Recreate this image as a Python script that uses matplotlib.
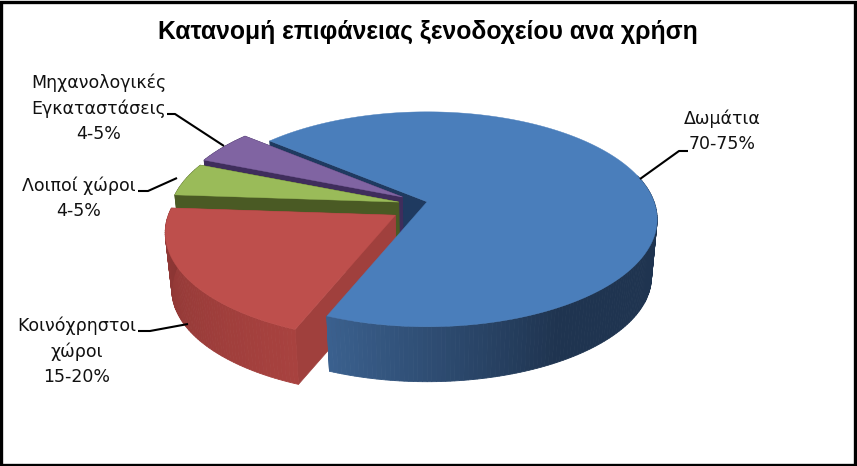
import numpy as np
import matplotlib
matplotlib.use('Agg')
import matplotlib.pyplot as plt
from matplotlib.colors import to_rgb

# dades
categories = ['Δωμάτια', 'Κοινόχρηστοι\nχώροι', 'Λοιποί χώροι', 'Μηχανολογικές\nΕγκαταστάσεις']
ranges = ['70-75%', '15-20%', '4-5%', '4-5%']
values = [70, 20, 5, 5]

top_colors = ['#4a7ebb', '#be4f4c', '#9abb59', '#8064a2']
edge_colors = ['#1f3a60', '#a0403d', '#4a5a24', '#3f2d5c']
side_light = ['#3b618f', '#a8423f', '#4a5a24', '#3f2d5c']
side_dark = ['#1f3450', '#8a3533', '#4a5a24', '#3f2d5c']

start_angle = 140
explode = 0.0727

# posicions de les etiquetes (pixels)
label_pos = [(722, 131.5), (77, 351), (79, 198), (98.5, 108)]
leaders = [
    [(688, 151), (679, 151), (640, 179)],
    [(138, 331), (150, 331), (188, 324)],
    [(138, 191), (148, 191), (177, 178)],
    [(167, 114), (175, 114), (224, 146)],
]

# perspectiva del pla de dalt
cx, cy = 413, 206
A, B, p = 227, 104.6, 0.163
B_expl = 240
depth = 58
shrink = 0.975


def project(t_deg, r, off, low=False):
    t = np.radians(t_deg)
    w = 1 + p * r * np.sin(t)
    X = cx + off[0] + A * r * np.cos(t) / w
    Y = cy + off[1] - B * r * np.sin(t) / w
    if low:
        X = 430 + (X - 430) * shrink
        Y = 205 + (Y - 205) * shrink + depth
    return X, Y


fig = plt.figure(figsize=(8.57, 4.66), dpi=100)
ax = fig.add_axes([0, 0, 1, 1])
ax.set_xlim(0, 857)
ax.set_ylim(466, 0)
ax.axis('off')

# limits dels sectors
spans = np.array(values) / sum(values) * 360
ends = start_angle - np.cumsum(spans)
starts = ends + spans

slices = []
for i in range(len(values)):
    mid = np.radians((starts[i] + ends[i]) / 2)
    off = (explode * A * np.cos(mid) * (1 - 0.5 * np.sin(mid)), -explode * B_expl * np.sin(mid))
    slices.append((starts[i], ends[i], off))


def draw_radial(i, ang):
    off = slices[i][2]
    x0, y0 = project(ang, 0, off)
    x1, y1 = project(ang, 1, off)
    x2, y2 = project(ang, 1, off, low=True)
    x3, y3 = project(ang, 0, off, low=True)
    ax.fill([x0, x1, x2, x3], [y0, y1, y2, y3], color=edge_colors[i], lw=0.5)


def draw_rim(i):
    s, e, off = slices[i]
    # del sector blau nomes es veu la part de davant
    if i == 0:
        s = 15
    angs = np.arange(s, e - 1, -1.0)
    angs = np.append(angs, e)
    if i == 0:
        g = np.clip((angs % 360 - 248) / 52, 0, 1)
        g[(angs % 360) < 248] = 1
    else:
        g = (s - angs) / (s - e)
    c0 = np.array(to_rgb(side_light[i]))
    c1 = np.array(to_rgb(side_dark[i]))
    for k in range(len(angs) - 1):
        a, b = angs[k], angs[k + 1]
        x0, y0 = project(a, 1, off)
        x1, y1 = project(b, 1, off)
        x2, y2 = project(b, 1, off, low=True)
        x3, y3 = project(a, 1, off, low=True)
        col = c0 + (c1 - c0) * g[k]
        ax.fill([x0, x1, x2, x3], [y0, y1, y2, y3], color=col, lw=0.6)


def draw_top(i):
    s, e, off = slices[i]
    angs = np.linspace(s, e, 200)
    x, y = project(angs, 1, off)
    x0, y0 = project(s, 0, off)
    ax.fill(np.append(x, x0), np.append(y, y0), color=top_colors[i], lw=0.3)


# ordre de pintat: del fons cap endavant
draw_radial(0, slices[0][0])
for i in [3, 2, 1]:
    draw_radial(i, slices[i][0])
    draw_rim(i)
    draw_radial(i, slices[i][1])
    draw_top(i)
draw_rim(0)
draw_top(0)

# linies guia
for pts in leaders:
    ax.plot([q[0] for q in pts], [q[1] for q in pts], color='black', lw=1.5,
            solid_capstyle='butt')

# etiquetes
for i in range(len(values)):
    ax.text(label_pos[i][0], label_pos[i][1], categories[i] + '\n' + ranges[i],
            ha='center', va='center', fontsize=12.5, family='DejaVu Sans',
            linespacing=1.5, color='#111111')

ax.text(428, 31.5, 'Κατανομή επιφάνειας ξενοδοχείου ανα χρήση', ha='center', va='center',
        fontsize=17.8, fontweight='bold', family='Liberation Sans', color='black')

# marc negre
ax.add_patch(plt.Rectangle((1.5, 1.5), 854, 463, fill=False, edgecolor='black', lw=2.4))

fig.savefig('out.png', dpi=100)
plt.close()
